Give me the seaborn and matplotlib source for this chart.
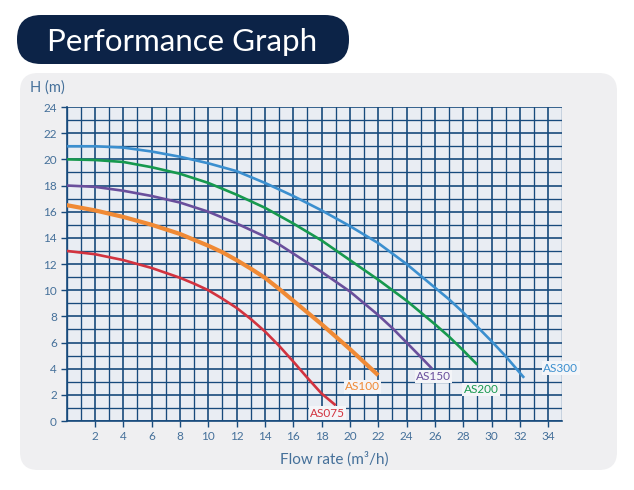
import matplotlib
matplotlib.use("Agg")
import matplotlib.pyplot as plt
from matplotlib.patches import FancyBboxPatch
from matplotlib.ticker import MultipleLocator
import seaborn as sns
import pandas as pd

# Courbes de performance (débit m3/h, hauteur m)
models = ["AS075", "AS100", "AS150", "AS200", "AS300"]
flow_as075 = [0, 2, 4, 6, 8, 9, 10, 11, 12, 13, 14, 15, 16, 17, 18, 19]
head_as075 = [13, 12.75, 12.3, 11.7, 10.95, 10.5, 10.0, 9.35, 8.65, 7.8, 6.85, 5.75, 4.55, 3.3, 2.1, 1.2]
flow_as100 = [0, 2, 4, 6, 8, 10, 11, 12, 13, 14, 15, 16, 17, 18, 19, 20, 21, 22]
head_as100 = [16.5, 16.1, 15.6, 15.0, 14.3, 13.4, 12.9, 12.3, 11.65, 10.95, 10.1, 9.2, 8.3, 7.4, 6.45, 5.5, 4.5, 3.5]
flow_as150 = [0, 2, 4, 6, 8, 10, 12, 14, 15, 16, 17, 18, 19, 20, 21, 22, 23, 24, 25, 25.8]
head_as150 = [18, 17.9, 17.6, 17.2, 16.7, 16.0, 15.1, 14.1, 13.5, 12.8, 12.1, 11.4, 10.65, 9.9, 9.0, 8.1, 7.1, 6.0, 4.9, 4.0]
flow_as200 = [0, 2, 4, 6, 8, 10, 12, 14, 16, 18, 20, 21, 22, 23, 24, 25, 26, 27, 28, 29]
head_as200 = [20, 19.95, 19.8, 19.4, 18.9, 18.2, 17.3, 16.3, 15.1, 13.8, 12.3, 11.55, 10.8, 10.0, 9.2, 8.3, 7.4, 6.45, 5.4, 4.3]
flow_as300 = [0, 2, 4, 6, 8, 10, 12, 14, 16, 18, 20, 22, 24, 25, 26, 27, 28, 29, 30, 31, 32.3]
head_as300 = [21, 21, 20.9, 20.6, 20.2, 19.7, 19.1, 18.2, 17.2, 16.1, 14.9, 13.6, 12.0, 11.1, 10.2, 9.3, 8.3, 7.2, 6.1, 4.95, 3.3]

flows = [flow_as075, flow_as100, flow_as150, flow_as200, flow_as300]
heads = [head_as075, head_as100, head_as150, head_as200, head_as300]

colors = ["#d2333f", "#f08a35", "#6a4f9c", "#17994e", "#3b8fcf"]
widths = [1.9, 3.0, 1.9, 1.9, 1.9]
# décalage des étiquettes par rapport à la fin de chaque courbe
label_offsets = [(-0.6, -0.6), (-1.1, -0.9), (0.1, -0.6), (0.26, -1.9), (2.6, 0.75)]

grid_color = "#174a7c"
text_color = "#45709a"

sns.set_style("white")
plt.rcParams["font.family"] = ["Lato", "DejaVu Sans"]

fig = plt.figure(figsize=(6.34, 4.9), dpi=100)
fig.patch.set_facecolor("white")

# fond en pixels pour le cadre gris et le titre
bg = fig.add_axes([0, 0, 1, 1])
bg.set_xlim(0, 634)
bg.set_ylim(490, 0)
bg.axis("off")
bg.add_patch(FancyBboxPatch((20, 73), 597, 397, boxstyle="round,pad=0,rounding_size=18",
                            fc="#efeff1", ec="none"))
bg.add_patch(FancyBboxPatch((17, 15), 332, 49, boxstyle="round,pad=0,rounding_size=24",
                            fc="#0c2347", ec="none"))
bg.text(47, 42, "Performance Graph", color="white", fontsize=22.5, va="center", ha="left")

ax = fig.add_axes([0.105, 0.1408, 0.782, 0.6408])
ax.set_facecolor("#e9edf3")

for name, fx, hy, c, lw, off in zip(models, flows, heads, colors, widths, label_offsets):
    df = pd.DataFrame({"flow": fx, "head": hy})
    sns.lineplot(data=df, x="flow", y="head", color=c, linewidth=lw, ax=ax, zorder=3,
                 solid_capstyle="butt")
    ax.text(fx[-1] + off[0], hy[-1] + off[1], name, color=c, fontsize=8.5, ha="center", va="center",
            zorder=4, clip_on=False,
            bbox=dict(boxstyle="square,pad=0.1", fc="#f4f5f8", ec="none"))

ax.set_xlim(0, 35)
ax.set_ylim(0, 24)
ax.xaxis.set_major_locator(MultipleLocator(2))
ax.xaxis.set_minor_locator(MultipleLocator(1))
ax.yaxis.set_major_locator(MultipleLocator(2))
ax.yaxis.set_minor_locator(MultipleLocator(1))
ax.grid(which="major", color=grid_color, linewidth=1.2)
ax.grid(which="minor", color=grid_color, linewidth=0.95)
ax.set_axisbelow(True)
ax.set_xticks(range(2, 35, 2))
ax.tick_params(axis="both", which="major", length=4, width=1, color=grid_color,
               labelcolor=text_color, labelsize=8.5, pad=3, left=True, bottom=True)
ax.tick_params(axis="both", which="minor", length=0)
for side in ["top", "right"]:
    ax.spines[side].set_visible(False)
for side in ["left", "bottom"]:
    ax.spines[side].set_color(grid_color)
    ax.spines[side].set_linewidth(1.2)

ax.set_xlabel("Flow rate (m³/h)", color=text_color, fontsize=11, labelpad=7)
ax.xaxis.label.set_x(0.54)
ax.set_ylabel("")
bg.text(30, 88, "H (m)", color=text_color, fontsize=10.5, va="center", ha="left")

fig.savefig("out.png", dpi=100)
